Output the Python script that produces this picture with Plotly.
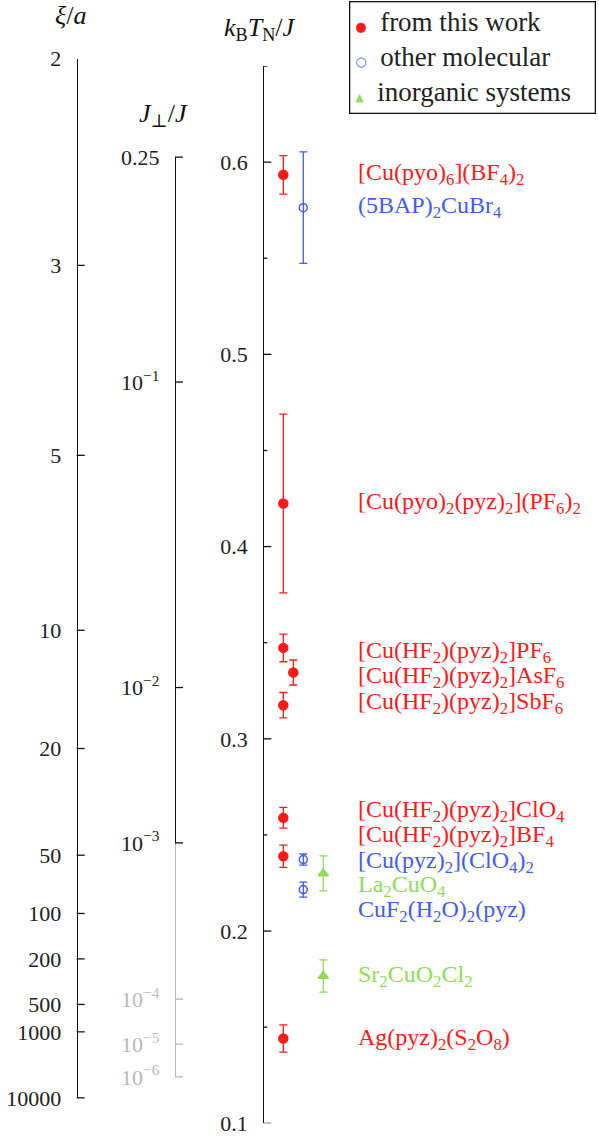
import plotly.graph_objects as go

# ---------------- data ----------------
compounds = [
    "[Cu(pyo)<sub>6</sub>](BF<sub>4</sub>)<sub>2</sub>",
    "(5BAP)<sub>2</sub>CuBr<sub>4</sub>",
    "[Cu(pyo)<sub>2</sub>(pyz)<sub>2</sub>](PF<sub>6</sub>)<sub>2</sub>",
    "[Cu(HF<sub>2</sub>)(pyz)<sub>2</sub>]PF<sub>6</sub>",
    "[Cu(HF<sub>2</sub>)(pyz)<sub>2</sub>]AsF<sub>6</sub>",
    "[Cu(HF<sub>2</sub>)(pyz)<sub>2</sub>]SbF<sub>6</sub>",
    "[Cu(HF<sub>2</sub>)(pyz)<sub>2</sub>]ClO<sub>4</sub>",
    "[Cu(HF<sub>2</sub>)(pyz)<sub>2</sub>]BF<sub>4</sub>",
    "[Cu(pyz)<sub>2</sub>](ClO<sub>4</sub>)<sub>2</sub>",
    "La<sub>2</sub>CuO<sub>4</sub>",
    "CuF<sub>2</sub>(H<sub>2</sub>O)<sub>2</sub>(pyz)",
    "Sr<sub>2</sub>CuO<sub>2</sub>Cl<sub>2</sub>",
    "Ag(pyz)<sub>2</sub>(S<sub>2</sub>O<sub>8</sub>)",
]
tn_values = [0.5934, 0.5763, 0.4224, 0.3473, 0.3345, 0.3175, 0.2589,
             0.2389, 0.2372, 0.2300, 0.2216, 0.1766, 0.1441]
tn_errors = [0.0100, 0.0290, 0.0465, 0.0072, 0.0065, 0.0066, 0.0054,
             0.0058, 0.0029, 0.0091, 0.0039, 0.0084, 0.0071]
groups = ["work", "molecular", "work", "work", "work", "work", "work",
          "work", "molecular", "inorganic", "molecular", "inorganic", "work"]
columns = [0, 1, 0, 0, 0.5, 0, 0, 0, 1, 2, 1, 2, 0]
label_tn = [0.5936, 0.5766, 0.4225, 0.3452, 0.3322, 0.3184, 0.2627,
            0.2495, 0.2360, 0.2235, 0.2105, 0.1767, 0.1438]

group_names = {"work": "from this work", "molecular": "other molecular",
               "inorganic": "inorganic systems"}
group_order = ["work", "molecular", "inorganic"]

# main axis ticks (k_B T_N / J)
tn_ticks = [0.1, 0.2, 0.3, 0.4, 0.5, 0.6]
tn_minor = [0.15, 0.25, 0.35, 0.45, 0.55, 0.65]
# xi/a axis: tick labels and their k_B T_N/J equivalents
xi_labels = ["2", "3", "5", "10", "20", "50", "100", "200", "500", "1000", "10000"]
xi_tn = [0.65377, 0.54628, 0.44748, 0.35647, 0.29496, 0.23947, 0.20915,
         0.18554, 0.16183, 0.14758, 0.11326]
# J_perp/J axis: tick labels and their k_B T_N/J equivalents
jp_labels = ["0.25", "10<sup>−1</sup>", "10<sup>−2</sup>", "10<sup>−3</sup>"]
jp_tn = [0.6026, 0.48560, 0.32668, 0.24587]
jp_gray_labels = ["10<sup>−4</sup>", "10<sup>−5</sup>", "10<sup>−6</sup>"]
jp_gray_tn = [0.16458, 0.14118, 0.12418]

# ---------------- style / layout ----------------
W, H = 599, 1142
SERIF = "Liberation Serif, DejaVu Serif, serif"
colors = {"work": "#ff1a1a", "molecular": "#3f5cff", "inorganic": "#8edc5a"}
symbols = {"work": "circle", "molecular": "circle-open", "inorganic": "triangle-up"}
legend_glyph = {"work": ("●", 13), "molecular": ("○", 13), "inorganic": ("▲", 11)}
INK = "#111111"
GRAY = "#b8b8b8"
PAD = "\u00a0\u00a0"
CLEAR = "rgba(0,0,0,0)"

col_x0, col_dx = 283.3, 20.0
X_XI, X_JP, X_MAIN = 76.7, 175.0, 263.3
main_px_top, main_px_bot = 66.0, 1123.3
main_range = [0.1, 0.6500001]
dom_main = [1 - main_px_bot / H, 1 - main_px_top / H]


def tfrac(t):
    return dom_main[0] + (t - main_range[0]) / (main_range[1] - main_range[0]) * (dom_main[1] - dom_main[0])


fig = go.Figure()

for g in group_order:
    idx = [i for i, gg in enumerate(groups) if gg == g]
    fig.add_trace(go.Scatter(
        x=[col_x0 + col_dx * columns[i] for i in idx],
        y=[tn_values[i] for i in idx],
        mode="markers", name=group_names[g],
        marker=dict(symbol=symbols[g], color=colors[g], size=9 if g != "molecular" else 8,
                    line=dict(color=colors[g], width=1.5)),
        error_y=dict(type="data", array=[tn_errors[i] for i in idx], color=colors[g],
                     thickness=1.3, width=4),
        showlegend=False, hoverinfo="skip", xaxis="x", yaxis="y",
    ))

common = dict(showgrid=False, zeroline=False, linewidth=1.3, ticks="",
              side="left", anchor="free", automargin=False, tickmode="array",
              showline=True)

axes = {}
n_axis = [1]


def add_axis(rng, pos_px, vals, texts, color, font_color):
    """One free y axis (line + labels) sharing the k_B T_N/J scale."""
    n_axis[0] += 1
    key = "yaxis%d" % n_axis[0]
    ref = "y%d" % n_axis[0]
    axes[key] = dict(range=[rng[0], rng[1]], domain=[tfrac(rng[0]), tfrac(rng[1])],
                     position=pos_px / W, tickvals=vals, ticktext=[t + PAD for t in texts],
                     linecolor=color, tickfont=dict(family=SERIF, size=22, color=font_color),
                     **common)
    fig.add_trace(go.Scatter(x=[-50], y=[vals[0]], xaxis="x", yaxis=ref, mode="markers",
                             marker=dict(opacity=0), showlegend=False, hoverinfo="skip"))


add_axis([xi_tn[-1], xi_tn[0]], X_XI, xi_tn, xi_labels, INK, "#222")
add_axis([jp_tn[-1], jp_tn[0]], X_JP, jp_tn, jp_labels, INK, "#222")
add_axis([jp_gray_tn[-1], jp_tn[-1]], X_JP, jp_gray_tn, jp_gray_labels, GRAY, GRAY)

# tick marks (drawn on the common k_B T_N/J scale)
tick_sets = [
    (X_MAIN, tn_ticks, 8, INK),
    (X_MAIN, tn_minor, 4, INK),
    (X_XI, xi_tn, 8, INK),
    (X_JP, jp_tn, 8, INK),
    (X_JP, jp_gray_tn, 8, GRAY),
]
for x0, vals, ln, colr in tick_sets:
    for v in vals:
        fig.add_shape(type="line", xref="x", yref="y", x0=x0, x1=x0 + ln, y0=v, y1=v,
                      line=dict(color=colr, width=1.3))

# compound labels
for i, name in enumerate(compounds):
    fig.add_annotation(x=356, y=label_tn[i], xref="x", yref="y", text=name,
                       showarrow=False, xanchor="left", yanchor="middle",
                       font=dict(family=SERIF, size=24, color=colors[groups[i]]))

# axis titles
titles = [
    ("<i>ξ</i>/<i>a</i>", 70, 15),
    ("<i>J</i><sub>⊥</sub>/<i>J</i>", 163, 115),
    ("<i>k</i><sub>B</sub><i>T</i><sub>N</sub>/<i>J</i>", 260, 29),
]
for txt, px, pyy in titles:
    fig.add_annotation(x=px / W, y=1 - pyy / H, xref="paper", yref="paper", text=txt,
                       showarrow=False, xanchor="center", yanchor="middle",
                       font=dict(family=SERIF, size=26, color=INK))

# legend box
legend_lines = []
for g in group_order:
    glyph, gsize = legend_glyph[g]
    legend_lines.append(
        "<span style='color:%s;font-size:%dpx;font-family:DejaVu Sans'>%s</span>"
        "\u00a0\u00a0%s" % (colors[g], gsize, glyph, group_names[g]))
fig.add_annotation(x=349 / W, y=1 - 1.0 / H, xref="paper", yref="paper",
                   xanchor="left", yanchor="top", showarrow=False,
                   text="<br>".join(legend_lines), align="left",
                   width=234, height=100, valign="middle", borderpad=5,
                   bordercolor=INK, borderwidth=1.3, bgcolor="white",
                   font=dict(family=SERIF, size=27, color="#222"))

fig.update_layout(
    width=W, height=H,
    margin=dict(l=0, r=0, t=0, b=0),
    paper_bgcolor="white", plot_bgcolor=CLEAR,
    showlegend=False,
    xaxis=dict(range=[0, W], domain=[0, 1], visible=False),
    yaxis=dict(range=main_range, domain=dom_main, position=X_MAIN / W,
               tickvals=tn_ticks, ticktext=["%.1f" % v + PAD for v in tn_ticks],
               linecolor=INK, tickfont=dict(family=SERIF, size=22, color="#222"), **common),
    **axes,
)

fig.write_html("out.html", config={"displayModeBar": False},
               post_script="document.body.style.margin='0px';")
